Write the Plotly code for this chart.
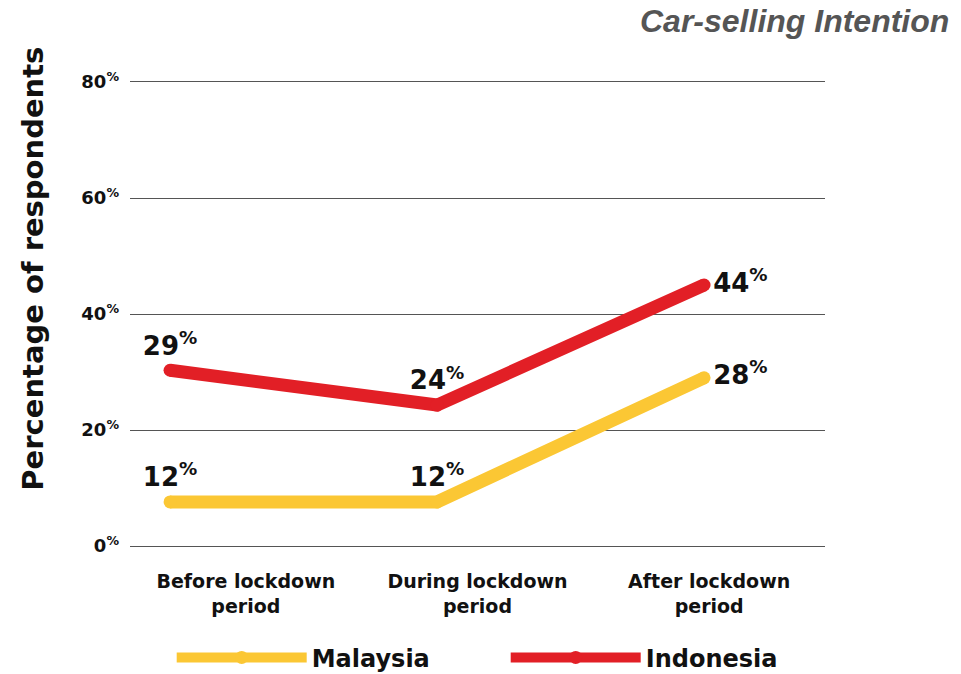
import plotly.graph_objects as go

periods = ["Before lockdown<br>period", "During lockdown<br>period", "After lockdown<br>period"]
malaysia = [7.6, 7.6, 29.0]
indonesia = [30.3, 24.3, 45.0]
malaysia_labels = ["12", "12", "28"]
indonesia_labels = ["29", "24", "44"]
y_ticks = [0, 20, 40, 60, 80]

YELLOW = "#FBC734"
RED = "#E21F26"
FONT = "DejaVu Sans"

fig = go.Figure()

label_pos = ["top center", "top center", "middle right"]

for name, vals, labels, color in [
    ("Malaysia", malaysia, malaysia_labels, YELLOW),
    ("Indonesia", indonesia, indonesia_labels, RED),
]:
    fig.add_trace(go.Scatter(
        x=periods,
        y=vals,
        name=name,
        mode="lines+markers+text",
        line=dict(color=color, width=13),
        marker=dict(color=color, size=13),
        text=[f"{t}<sup>%</sup>" for t in labels],
        textposition=label_pos,
        textfont=dict(family=FONT, size=26, color="#111111", weight=700),
        cliponaxis=False,
        hoverinfo="skip",
    ))

# dummy trace carrying the category labels on an overlaid axis
fig.add_trace(go.Scatter(
    x=periods, y=[None] * len(periods), xaxis="x2",
    showlegend=False, hoverinfo="skip", mode="lines",
))

# page body has an 8px margin, so the figure is drawn 8px smaller
fig.update_layout(
    width=953,
    height=666,
    margin=dict(l=122, r=136, t=74, b=128, autoexpand=False),
    plot_bgcolor="white",
    paper_bgcolor="white",
    font=dict(family=FONT, color="#111111"),
    showlegend=True,
    legend=dict(
        orientation="h",
        x=0.06, xanchor="left",
        y=-0.241, yanchor="middle",
        font=dict(family=FONT, size=24, color="#111111", weight=700),
        itemwidth=130,
        entrywidth=189,
    ),
    xaxis=dict(
        type="category",
        range=[-0.15, 2.453],
        showticklabels=False,
        showgrid=False,
        zeroline=False,
        showline=True,
        mirror=True,
        linecolor="#555555",
        linewidth=1.2,
        automargin=False,
    ),
    xaxis2=dict(
        type="category",
        overlaying="x",
        side="bottom",
        range=[-0.5, 2.5],
        showgrid=False,
        zeroline=False,
        ticks="",
        ticklabelstandoff=22,
        automargin=False,
        tickfont=dict(family=FONT, size=19, color="#111111", weight=700),
    ),
    yaxis=dict(
        range=[0, 80],
        tickvals=y_ticks,
        ticktext=[f"{v}<sup>%</sup>" for v in y_ticks],
        tickfont=dict(family=FONT, size=18, color="#111111", weight=700),
        showgrid=True,
        gridcolor="#555555",
        gridwidth=1.2,
        zeroline=False,
        ticklabelstandoff=10,
        automargin=False,
    ),
    annotations=[
        dict(
            text="<b><i>Car-selling Intention</i></b>",
            xref="paper", yref="paper",
            x=1.182, y=1.131,
            xanchor="right", yanchor="middle",
            showarrow=False,
            font=dict(family="Liberation Sans", size=32, color="#555555"),
        ),
        dict(
            text="<b>Percentage of respondents</b>",
            xref="paper", yref="paper",
            x=-0.14, y=0.597,
            xanchor="center", yanchor="middle",
            textangle=-90,
            showarrow=False,
            font=dict(family=FONT, size=29, color="#111111"),
        ),
    ],
)

fig.write_html("out.html")
